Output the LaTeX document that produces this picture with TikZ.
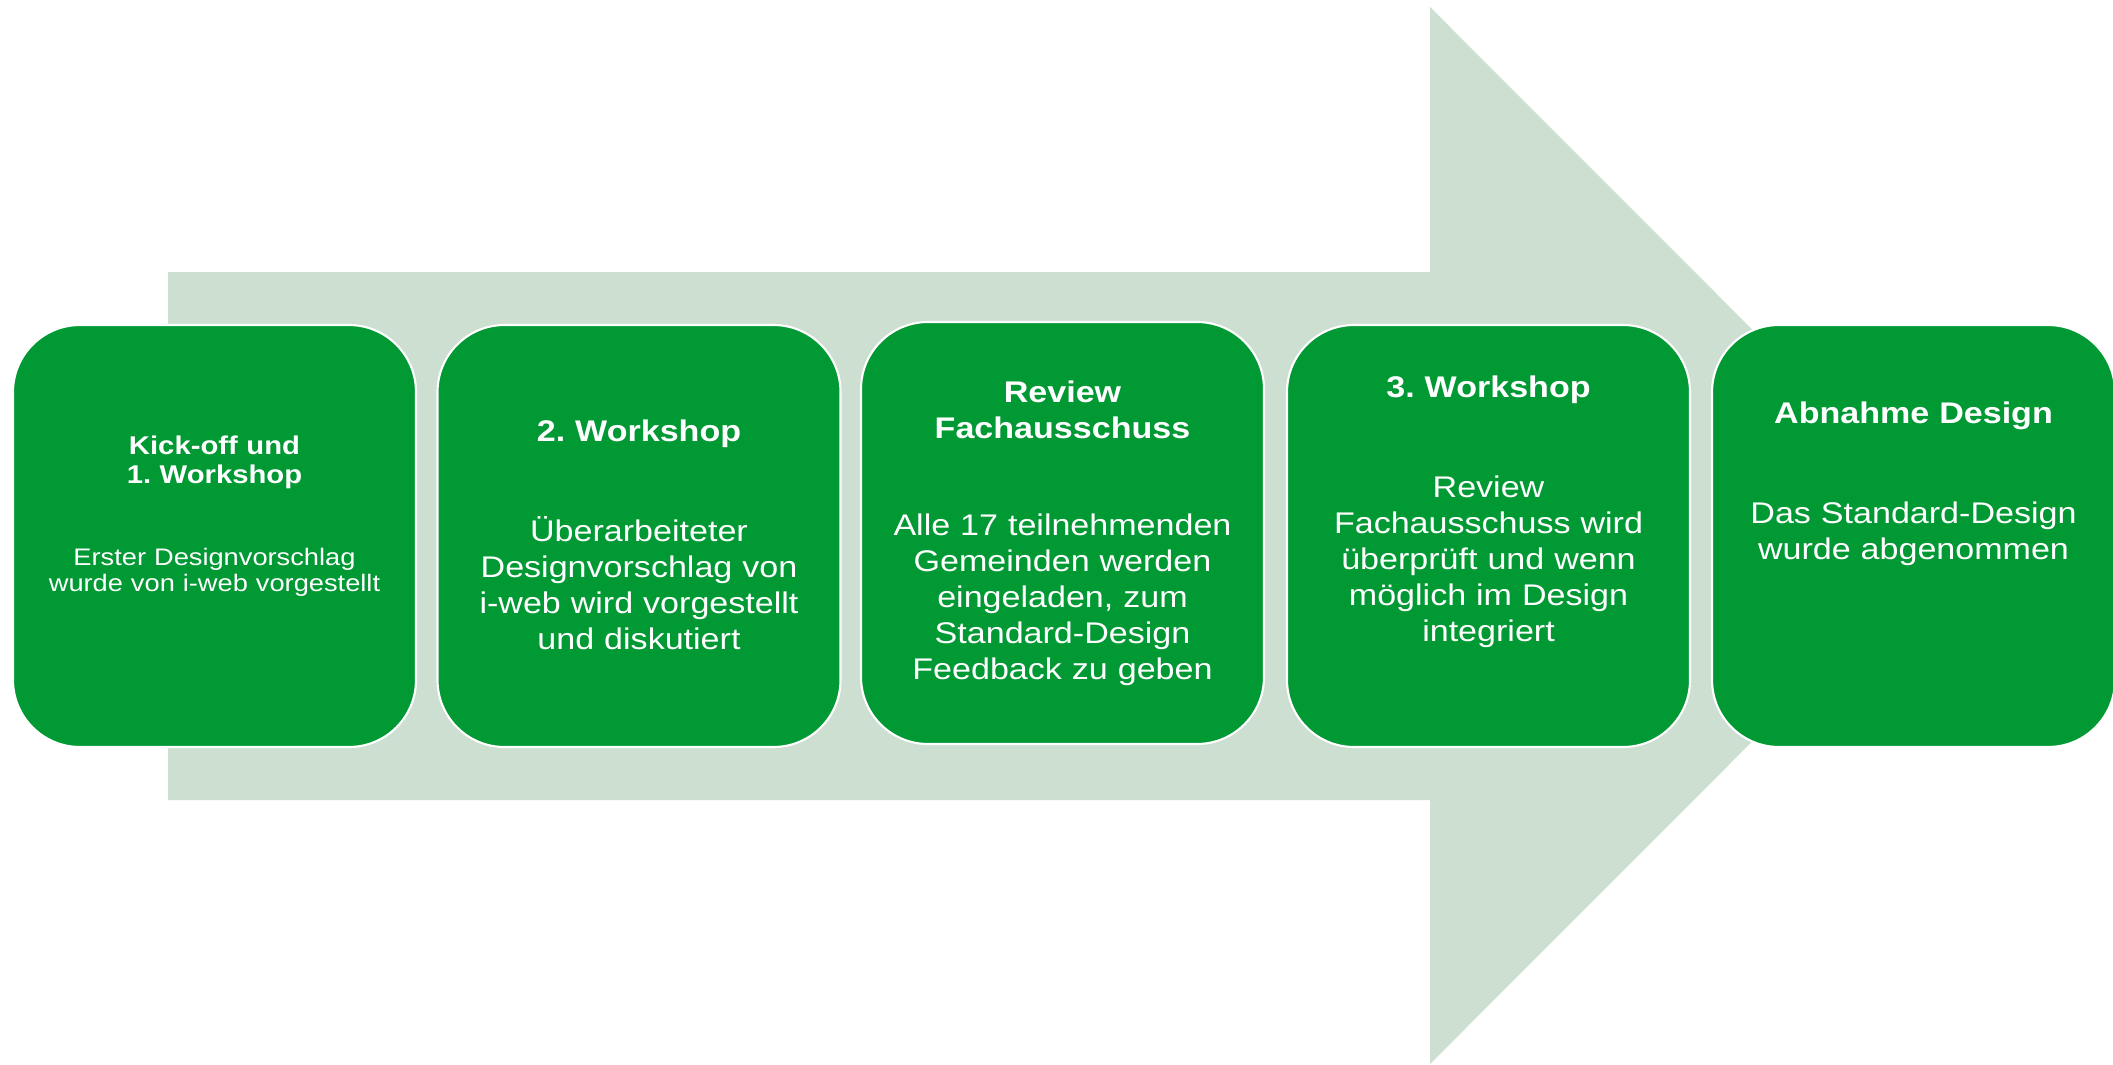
\documentclass[tikz,border=0pt]{standalone}
\usepackage{fontspec}
\setmainfont[FakeStretch=1.14]{Liberation Sans}
\usepackage{tikz}
\frenchspacing

\definecolor{stepgreen}{RGB}{0,153,51}
\definecolor{arrowgreen}{RGB}{205,223,208}

\tikzset{
  stepbox/.style={draw=white, line width=0.6pt, fill=stepgreen, rounded corners=0.67cm,
    minimum width=4.03cm, minimum height=4.22cm, inner sep=0pt},
  steptitle/.style={text=white, font=\bfseries\fontsize{8.5}{10}\selectfont,
    text width=3.95cm, align=center, inner sep=0pt, anchor=base},
  steptext/.style={text=white, font=\fontsize{8.5}{10.2}\selectfont,
    text width=3.95cm, align=center, inner sep=0pt, anchor=base}
}

\begin{document}
\begin{tikzpicture}
            \useasboundingbox (0,0) rectangle (21.13,10.64);
            % big arrow behind the steps
            \fill[arrowgreen] (1.68,7.92) -- (14.30,7.92) -- (14.30,10.57) -- (19.58,5.285)
                -- (14.30,0) -- (14.30,2.64) -- (1.68,2.64) -- cycle;
            % the steps
            \node[stepbox] (kickoff) at (2.145,5.28) {};
            \node[stepbox] (ws2) at (6.39,5.28) {};
            \node[stepbox] (review) at (10.625,5.31) {};
            \node[stepbox] (ws3) at (14.885,5.28) {};
            \node[stepbox] (abnahme) at (19.135,5.28) {};
            % texts
            \node[steptitle, font=\bfseries\fontsize{7.3}{8.25}\selectfont] (kickoff-t) at ([yshift=-1.31cm]kickoff.north) {Kick-off und\\1. Workshop};
            \node[steptext, font=\fontsize{6.8}{7.4}\selectfont] (kickoff-b) at ([yshift=-2.42cm]kickoff.north) {Erster Designvorschlag\\wurde von i-web vorgestellt};
            \node[steptitle] (ws2-t) at ([yshift=-1.18cm]ws2.north) {2. Workshop};
            \node[steptext] (ws2-b) at ([yshift=-2.18cm]ws2.north) {Überarbeiteter\\Designvorschlag von\\i-web wird vorgestellt\\und diskutiert};
            \node[steptitle] (review-t) at ([yshift=-0.82cm]review.north) {Review\\Fachausschuss};
            \node[steptext] (review-b) at ([yshift=-2.15cm]review.north) {Alle 17 teilnehmenden\\Gemeinden werden\\eingeladen, zum\\Standard-Design\\Feedback zu geben};
            \node[steptitle] (ws3-t) at ([yshift=-0.74cm]ws3.north) {3. Workshop};
            \node[steptext] (ws3-b) at ([yshift=-1.74cm]ws3.north) {Review\\Fachausschuss wird\\überprüft und wenn\\möglich im Design\\integriert};
            \node[steptitle] (abnahme-t) at ([yshift=-1.00cm]abnahme.north) {Abnahme Design};
            \node[steptext] (abnahme-b) at ([yshift=-2.00cm]abnahme.north) {Das Standard-Design\\wurde abgenommen};
        \end{tikzpicture}
\end{document}
